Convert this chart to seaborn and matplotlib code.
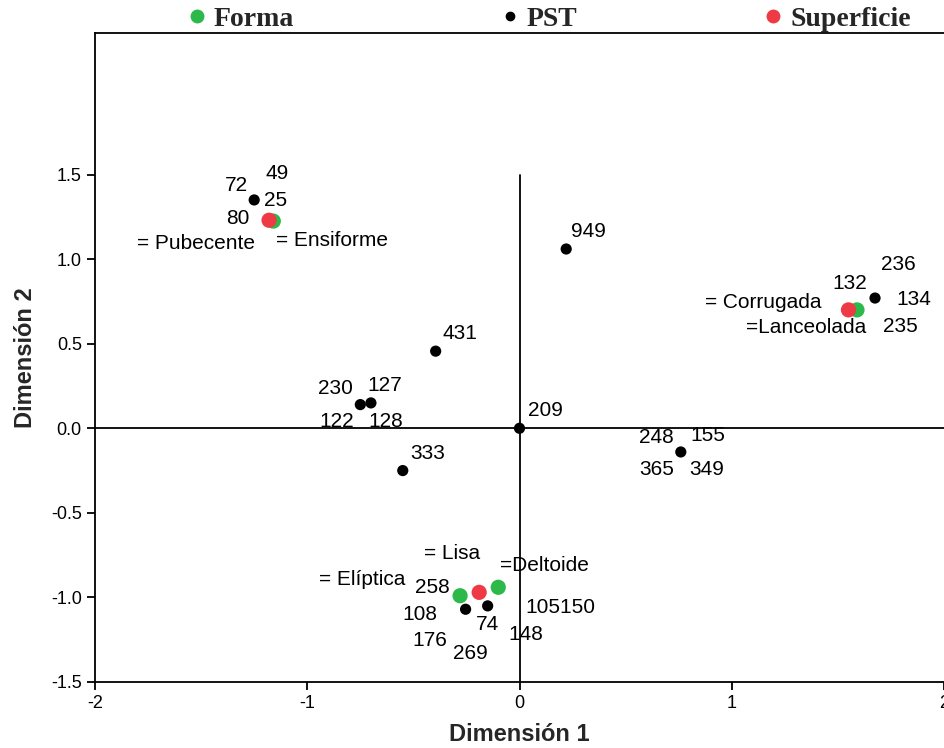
import matplotlib
matplotlib.use("Agg")
import matplotlib.pyplot as plt
from matplotlib.lines import Line2D
import seaborn as sns
import pandas as pd

# Category point coordinates (Dimension 1, Dimension 2)
pst_x = [-1.25, 0.22, -0.395, -0.75, -0.70, 0.0, -0.55, 0.76, 1.675, -0.254, -0.15]
pst_y = [1.35, 1.06, 0.456, 0.14, 0.15, 0.0, -0.25, -0.14, 0.77, -1.07, -1.05]

forma_x = [-1.16, 1.59, -0.28, -0.10]
forma_y = [1.225, 0.70, -0.99, -0.94]

superficie_x = [-1.18, 1.55, -0.19]
superficie_y = [1.23, 0.70, -0.97]

groups = ["Forma", "PST", "Superficie"]
group_colors = {"Forma": "#2db84a", "PST": "#000000", "Superficie": "#ee3a44"}
group_sizes = {"Forma": 120, "PST": 65, "Superficie": 120}

# Point labels
label_text = ["72", "49", "25", "80", "= Pubecente", "= Ensiforme", "949", "431",
              "230", "127", "122", "128", "209", "333",
              "248", "155", "365", "349",
              "236", "132", "134", "= Corrugada", "=Lanceolada", "235",
              "= Lisa", "=Deltoide", "= Elíptica", "258", "108", "74",
              "105150", "148", "176", "269"]
label_x = [-1.332, -1.144, -1.148, -1.327, -1.525, -0.885, 0.325, -0.282,
           -0.866, -0.635, -0.861, -0.628, 0.122, -0.433,
           0.645, 0.885, 0.645, 0.880,
           1.784, 1.558, 1.859, 1.148, 1.351, 1.793,
           -0.320, 0.118, -0.743, -0.409, -0.471, -0.151,
           0.193, 0.028, -0.424, -0.231]
label_y = [1.438, 1.509, 1.349, 1.243, 1.095, 1.112, 1.165, 0.562,
           0.237, 0.254, 0.041, 0.041, 0.107, -0.148,
           -0.053, -0.041, -0.243, -0.243,
           0.970, 0.858, 0.763, 0.746, 0.598, 0.604,
           -0.740, -0.811, -0.893, -0.941, -1.101, -1.160,
           -1.059, -1.219, -1.254, -1.331]

x_ticks = [-2, -1, 0, 1, 2]
y_ticks = [-1.5, -1.0, -0.5, 0.0, 0.5, 1.0, 1.5]

sns.set_style("white")
plt.rcParams["font.family"] = ["Liberation Sans", "DejaVu Sans"]

df = pd.concat([
    pd.DataFrame({"d1": pst_x, "d2": pst_y, "grupo": "PST"}),
    pd.DataFrame({"d1": forma_x, "d2": forma_y, "grupo": "Forma"}),
    pd.DataFrame({"d1": superficie_x, "d2": superficie_y, "grupo": "Superficie"}),
], ignore_index=True)

fig = plt.figure(figsize=(9.44, 7.48), dpi=100)
ax = fig.add_axes([95 / 944, 1 - 682 / 748, 849 / 944, 649 / 748])

# Reference axes through the origin
ax.plot([0, 0], [-1.5, 1.5], color="black", lw=1.3, zorder=1)
ax.axhline(0, color="black", lw=1.3, zorder=1)

sns.scatterplot(data=df, x="d1", y="d2", hue="grupo", palette=group_colors,
                size="grupo", sizes=group_sizes, linewidth=0, legend=False,
                ax=ax, zorder=3)

for t, x, y in zip(label_text, label_x, label_y):
    ax.text(x, y, t, ha="center", va="center", fontsize=15, color="black", zorder=4)

ax.set_xlim(-2, 2)
ax.set_ylim(-1.5, 2.337)
ax.set_xticks(x_ticks)
ax.set_xticklabels([str(v) for v in x_ticks])
ax.set_yticks(y_ticks)
ax.set_yticklabels([f"{v:.1f}" for v in y_ticks])
ax.tick_params(axis="both", direction="out", length=6, width=1.3, labelsize=13,
               colors="black", left=True, bottom=True)
for side in ["left", "bottom", "top"]:
    ax.spines[side].set_color("black")
    ax.spines[side].set_linewidth(1.3)
ax.spines["right"].set_visible(False)

ax.set_xlabel("Dimensión 1", fontsize=17, fontweight="bold", labelpad=8)
ax.set_ylabel("Dimensión 2", fontsize=17, fontweight="bold", labelpad=10)

# Legend row across the top: one entry per group, each placed on its own
legend_left_px = {"Forma": 189, "PST": 502, "Superficie": 765}
for g in groups:
    h = Line2D([0], [0], marker="o", linestyle="", markersize=10 if g != "PST" else 7,
               markerfacecolor=group_colors[g], markeredgewidth=0, label=g)
    fig.legend(handles=[h], loc="center left",
               bbox_to_anchor=(legend_left_px[g] / 944, 1 - 19 / 748),
               frameon=False, handlelength=0.6, handletextpad=0.3,
               borderaxespad=0, borderpad=0,
               prop={"family": "Liberation Serif", "weight": "bold", "size": 20})

fig.savefig("out.png", dpi=100)
